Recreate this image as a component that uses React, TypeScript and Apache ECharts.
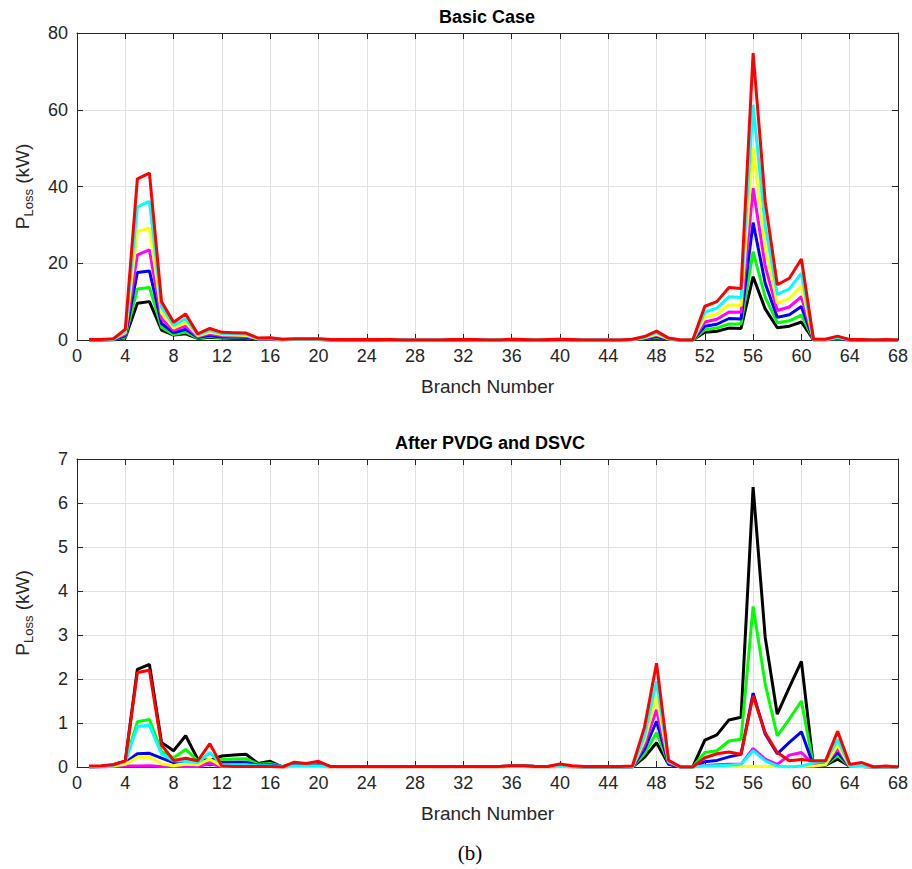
import React, { useEffect, useRef } from "react";
import * as echarts from "echarts";

// Branch numbers (x categories)
const branches: number[] = Array.from({ length: 68 }, (_, i) => i + 1);

// ---------- Basic Case (kW) ----------
const basicBlack = [
  0, 0, 0, 0.6, 9.6, 10.0, 2.6, 1.3, 1.6, 0.4,
  0.7, 0.5, 0.4, 0.4, 0.1, 0.1, 0, 0.1, 0.1, 0.1,
  0, 0, 0, 0, 0, 0, 0, 0, 0, 0,
  0, 0, 0, 0, 0, 0, 0, 0, 0, 0.1,
  0, 0, 0, 0, 0, 0.1, 0.2, 0.5, 0.1, 0,
  0, 2.0, 2.3, 3.1, 3.0, 16.5, 8.1, 3.2, 3.6, 4.7,
  0, 0, 0.2, 0, 0, 0, 0, 0,
];
const basicGreen = [
  0, 0, 0.1, 0.8, 13.3, 13.7, 3.3, 1.4, 2.1, 0.5,
  0.9, 0.6, 0.6, 0.6, 0.2, 0.2, 0.1, 0.1, 0.1, 0.1,
  0, 0, 0, 0, 0, 0, 0, 0, 0, 0,
  0, 0, 0, 0, 0, 0.1, 0, 0, 0, 0.1,
  0, 0, 0, 0, 0, 0.1, 0.3, 0.7, 0.2, 0,
  0, 2.7, 3.1, 4.2, 4.2, 23.0, 11.2, 4.5, 5.0, 6.5,
  0.1, 0, 0.3, 0, 0, 0, 0, 0,
];
const basicBlue = [
  0, 0, 0.1, 1.1, 17.6, 18.0, 4.3, 1.9, 2.8, 0.7,
  1.2, 0.8, 0.8, 0.7, 0.2, 0.2, 0.1, 0.1, 0.1, 0.1,
  0, 0, 0, 0, 0, 0, 0, 0, 0, 0,
  0, 0, 0, 0, 0, 0.1, 0, 0, 0, 0.1,
  0, 0, 0, 0, 0, 0.1, 0.4, 0.9, 0.2, 0,
  0, 3.6, 4.1, 5.6, 5.5, 30.6, 14.8, 5.9, 6.6, 8.7,
  0.1, 0.1, 0.4, 0, 0, 0, 0, 0,
];
const basicMagenta = [
  0, 0.1, 0.2, 1.5, 22.2, 23.5, 5.6, 2.5, 3.6, 0.9,
  1.6, 1.1, 1.0, 1.0, 0.3, 0.3, 0.1, 0.1, 0.1, 0.1,
  0.1, 0.1, 0, 0, 0, 0, 0, 0, 0, 0,
  0.1, 0, 0, 0, 0, 0.1, 0.1, 0, 0, 0.1,
  0.1, 0, 0, 0, 0, 0.1, 0.5, 1.2, 0.3, 0,
  0, 4.7, 5.4, 7.3, 7.2, 39.6, 19.3, 7.7, 8.6, 11.3,
  0.1, 0.1, 0.5, 0.1, 0, 0, 0, 0,
];
const basicYellow = [
  0.1, 0.1, 0.2, 1.9, 28.3, 29.2, 7.0, 3.1, 4.6, 1.1,
  2.0, 1.4, 1.3, 1.2, 0.3, 0.4, 0.1, 0.2, 0.2, 0.2,
  0.1, 0.1, 0.1, 0.1, 0.1, 0, 0, 0, 0, 0,
  0.1, 0.1, 0, 0, 0, 0.1, 0.1, 0, 0.1, 0.1,
  0.1, 0, 0, 0, 0, 0.1, 0.6, 1.5, 0.3, 0,
  0, 5.9, 6.7, 9.2, 9.0, 50.0, 24.2, 9.6, 10.8, 14.1,
  0.1, 0.1, 0.7, 0.1, 0.1, 0, 0.1, 0,
];
const basicCyan = [
  0.1, 0.1, 0.2, 2.3, 34.7, 36.1, 8.6, 3.8, 5.6, 1.3,
  2.5, 1.7, 1.6, 1.5, 0.4, 0.5, 0.2, 0.2, 0.2, 0.2,
  0.1, 0.1, 0.1, 0.1, 0.1, 0.1, 0, 0, 0, 0,
  0.1, 0.1, 0.1, 0, 0, 0.2, 0.1, 0, 0.1, 0.2,
  0.1, 0, 0, 0, 0, 0.2, 0.7, 1.9, 0.4, 0,
  0, 7.3, 8.3, 11.3, 11.1, 61.3, 29.8, 11.9, 13.3, 17.4,
  0.2, 0.2, 0.8, 0.1, 0.1, 0, 0.1, 0,
];
const basicRed = [
  0.1, 0.1, 0.3, 2.8, 42.0, 43.5, 10.0, 4.6, 6.8, 1.6,
  3.0, 2.0, 1.9, 1.8, 0.5, 0.6, 0.2, 0.3, 0.3, 0.3,
  0.1, 0.1, 0.1, 0.1, 0.1, 0.1, 0, 0, 0, 0,
  0.1, 0.1, 0.1, 0, 0, 0.2, 0.1, 0, 0.1, 0.2,
  0.1, 0, 0, 0, 0, 0.2, 0.9, 2.3, 0.5, 0,
  0, 8.8, 10.0, 13.7, 13.4, 74.8, 36.1, 14.4, 16.1, 21.1,
  0.2, 0.2, 1.0, 0.1, 0.1, 0, 0.1, 0,
];

// ---------- After PVDG and DSVC (kW) ----------
const afterBlack = [
  0, 0.01, 0.05, 0.13, 2.22, 2.33, 0.56, 0.37, 0.71, 0.18,
  0.15, 0.25, 0.27, 0.29, 0.08, 0.13, 0, 0.05, 0.03, 0.05,
  0.01, 0.01, 0.01, 0.01, 0.01, 0.01, 0.01, 0.01, 0.01, 0.01,
  0.01, 0.01, 0.01, 0.01, 0.01, 0.02, 0.02, 0.01, 0.01, 0.03,
  0.01, 0, 0, 0, 0, 0, 0.22, 0.55, 0.06, 0,
  0, 0.61, 0.73, 1.07, 1.13, 6.36, 2.95, 1.2, 1.81, 2.4,
  0.02, 0.04, 0.18, 0.02, 0.01, 0, 0, 0,
];
const afterGreen = [
  0, 0.01, 0.04, 0.12, 1.03, 1.08, 0.35, 0.21, 0.4, 0.14,
  0.1, 0.17, 0.18, 0.19, 0.06, 0.08, 0.01, 0.04, 0.03, 0.04,
  0.01, 0.01, 0.01, 0.01, 0.01, 0.01, 0.01, 0.01, 0.01, 0.01,
  0.01, 0.01, 0.01, 0.01, 0.01, 0.02, 0.02, 0.01, 0.01, 0.03,
  0.01, 0, 0, 0, 0, 0, 0.3, 0.78, 0.08, 0,
  0, 0.33, 0.37, 0.59, 0.63, 3.65, 1.89, 0.71, 1.09, 1.5,
  0.03, 0.05, 0.26, 0.02, 0.01, 0, 0, 0,
];
const afterBlue = [
  0, 0.01, 0.03, 0.1, 0.3, 0.31, 0.2, 0.1, 0.15, 0.13,
  0.05, 0.1, 0.11, 0.11, 0.04, 0.05, 0.01, 0.03, 0.02, 0.03,
  0.01, 0.01, 0.01, 0.01, 0.01, 0.01, 0.01, 0.01, 0.01, 0.01,
  0.01, 0.01, 0.01, 0.01, 0.01, 0.02, 0.02, 0.01, 0.01, 0.02,
  0.01, 0, 0, 0, 0, 0, 0.4, 1.04, 0.08, 0,
  0, 0.12, 0.15, 0.23, 0.29, 1.68, 0.75, 0.3, 0.56, 0.8,
  0.03, 0.05, 0.33, 0.02, 0.01, 0, 0, 0,
];
const afterMagenta = [
  0, 0, 0.01, 0.02, 0.02, 0.03, 0.01, 0.01, 0.01, 0.01,
  0.08, 0.01, 0.01, 0.01, 0.01, 0.01, 0, 0.01, 0.01, 0.01,
  0, 0, 0, 0, 0, 0, 0, 0, 0, 0,
  0, 0, 0, 0, 0, 0.01, 0.01, 0, 0, 0.01,
  0, 0, 0, 0, 0, 0, 0.5, 1.3, 0.1, 0,
  0, 0.03, 0.05, 0.06, 0.06, 0.42, 0.18, 0.06, 0.27, 0.33,
  0.06, 0.06, 0.42, 0.02, 0.01, 0, 0, 0,
];
const afterYellow = [
  0, 0.01, 0.02, 0.06, 0.22, 0.23, 0.07, 0.03, 0.06, 0.05,
  0.18, 0.02, 0.01, 0.01, 0.01, 0.01, 0, 0.01, 0.01, 0.01,
  0, 0, 0, 0, 0, 0, 0, 0, 0, 0,
  0, 0, 0, 0, 0, 0.01, 0.01, 0, 0, 0.01,
  0, 0, 0, 0, 0, 0, 0.6, 1.6, 0.12, 0,
  0, 0.01, 0.01, 0.01, 0.01, 0.01, 0.01, 0.01, 0.01, 0.01,
  0.02, 0.05, 0.5, 0.02, 0.01, 0, 0, 0,
];
const afterCyan = [
  0, 0.01, 0.04, 0.12, 0.92, 0.95, 0.3, 0.14, 0.13, 0.1,
  0.33, 0.05, 0.05, 0.05, 0.03, 0.03, 0.01, 0.02, 0.02, 0.02,
  0.01, 0.01, 0.01, 0.01, 0.01, 0.01, 0.01, 0.01, 0.01, 0.01,
  0.01, 0.01, 0.01, 0.01, 0.01, 0.02, 0.02, 0.01, 0.01, 0.02,
  0.01, 0, 0, 0, 0, 0, 0.7, 1.95, 0.13, 0,
  0, 0.02, 0.03, 0.04, 0.06, 0.37, 0.14, 0.02, 0, 0.02,
  0.1, 0.13, 0.62, 0.03, 0.02, 0, 0, 0,
];
const afterRed = [
  0.02, 0.03, 0.05, 0.14, 2.15, 2.2, 0.5, 0.15, 0.2, 0.14,
  0.53, 0.02, 0.01, 0.01, 0.01, 0.01, 0, 0.11, 0.08, 0.13,
  0.01, 0.01, 0.01, 0.01, 0.01, 0.01, 0.01, 0.01, 0.01, 0.01,
  0.01, 0.01, 0.01, 0.01, 0.01, 0.03, 0.03, 0.01, 0.01, 0.07,
  0.03, 0.01, 0.01, 0.01, 0.01, 0.02, 0.9, 2.36, 0.15, 0,
  0, 0.21, 0.3, 0.34, 0.29, 1.62, 0.78, 0.33, 0.14, 0.17,
  0.14, 0.14, 0.81, 0.06, 0.1, 0, 0.02, 0,
];

const lineColors = ["#000000", "#00ff00", "#0000ff", "#ff00ff", "#ffff00", "#00ffff", "#ff0000"];
const basicSeries = [basicBlack, basicGreen, basicBlue, basicMagenta, basicYellow, basicCyan, basicRed];
const afterSeries = [afterBlack, afterGreen, afterBlue, afterMagenta, afterYellow, afterCyan, afterRed];

const xTicksMax = 68;
const FONT = "'Liberation Sans', Arial, Helvetica, sans-serif";
const AX = "#262626";

export default function App() {
  const ref = useRef<HTMLDivElement>(null);

  useEffect(() => {
    if (!ref.current) return;
    const chart = echarts.init(ref.current, null, { renderer: "svg" });

    const grids = [
      { left: 77, right: 14, top: 33, height: 307 },
      { left: 77, right: 14, top: 459, height: 308 },
    ];
    const yMax = [80, 7];
    const yInt = [20, 1];

    const xAxes: any[] = [];
    const yAxes: any[] = [];
    grids.forEach((_, gi) => {
      xAxes.push({
        type: "value",
        gridIndex: gi,
        min: 0,
        max: xTicksMax,
        interval: 4,
        position: "bottom",
        axisLine: { show: true, onZero: false, lineStyle: { color: AX, width: 1 } },
        axisTick: { show: true, inside: true, length: 6, lineStyle: { color: AX } },
        axisLabel: { fontSize: 18, color: AX, fontFamily: FONT, margin: 7 },
        splitLine: { show: true, lineStyle: { color: "#e0e0e0", width: 1 } },
        name: "Branch Number",
        nameLocation: "middle",
        nameGap: 37,
        nameTextStyle: { fontSize: 19, color: AX, fontFamily: FONT },
      });
      xAxes.push({
        type: "value",
        gridIndex: gi,
        min: 0,
        max: xTicksMax,
        interval: 4,
        position: "top",
        axisLine: { show: true, onZero: false, lineStyle: { color: AX, width: 1 } },
        axisTick: { show: true, inside: true, length: 6, lineStyle: { color: AX } },
        axisLabel: { show: false },
        splitLine: { show: false },
      });
      yAxes.push({
        type: "value",
        gridIndex: gi,
        min: 0,
        max: yMax[gi],
        interval: yInt[gi],
        position: "left",
        axisLine: { show: true, onZero: false, lineStyle: { color: AX, width: 1 } },
        axisTick: { show: true, inside: true, length: 6, lineStyle: { color: AX } },
        axisLabel: { fontSize: 18, color: AX, fontFamily: FONT, margin: 9 },
        splitLine: { show: true, lineStyle: { color: "#e0e0e0", width: 1 } },
        name: "{a|P}{b|Loss}{a| (kW)}",
        nameLocation: "middle",
        nameRotate: 90,
        nameGap: 42,
        nameTextStyle: {
          fontFamily: FONT,
          color: AX,
          rich: {
            a: { fontSize: 19, color: AX, fontFamily: FONT, lineHeight: 26, verticalAlign: "middle" },
            b: { fontSize: 13, color: AX, fontFamily: FONT, lineHeight: 14, verticalAlign: "bottom" },
          },
        },
      });
      yAxes.push({
        type: "value",
        gridIndex: gi,
        min: 0,
        max: yMax[gi],
        interval: yInt[gi],
        position: "right",
        axisLine: { show: true, onZero: false, lineStyle: { color: AX, width: 1 } },
        axisTick: { show: true, inside: true, length: 6, lineStyle: { color: AX } },
        axisLabel: { show: false },
        splitLine: { show: false },
      });
    });

    const series: any[] = [];
    [basicSeries, afterSeries].forEach((set, gi) => {
      set.forEach((vals, si) => {
        series.push({
          type: "line",
          xAxisIndex: gi * 2,
          yAxisIndex: gi * 2,
          data: branches.map((b, i) => [b, vals[i]]),
          showSymbol: false,
          symbol: "none",
          silent: true,
          lineStyle: { color: lineColors[si], width: 3 },
          itemStyle: { color: lineColors[si] },
          z: 2 + si,
        });
      });
    });

    chart.setOption({
      animation: false,
      backgroundColor: "#ffffff",
      grid: grids,
      xAxis: xAxes,
      yAxis: yAxes,
      series,
      graphic: [
        {
          type: "text",
          x: 487,
          y: 17,
          style: {
            text: "Basic Case",
            font: `bold 18px ${FONT}`,
            fill: "#000000",
            align: "center",
            verticalAlign: "middle",
          },
        },
        {
          type: "text",
          x: 490,
          y: 443,
          style: {
            text: "After PVDG and DSVC",
            font: `bold 18px ${FONT}`,
            fill: "#000000",
            align: "center",
            verticalAlign: "middle",
          },
        },
        {
          type: "text",
          x: 470,
          y: 853,
          style: {
            text: "(b)",
            font: "21px 'Liberation Serif', 'Times New Roman', serif",
            fill: "#000000",
            align: "center",
            verticalAlign: "middle",
          },
        },
      ],
    });

    return () => chart.dispose();
  }, []);

  return (
    <div
      ref={ref}
      style={{ position: "absolute", left: 0, top: 0, width: 912, height: 869, background: "#ffffff" }}
    />
  );
}
